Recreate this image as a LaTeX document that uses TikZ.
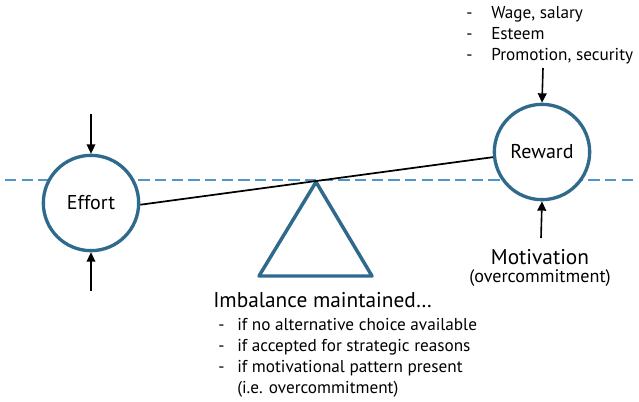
\documentclass[tikz,border=0pt]{standalone}
\usepackage{fontspec}
\setmainfont{PT Sans}
\usetikzlibrary{arrows.meta, positioning, calc}
\usepackage{xcolor}
\definecolor{SeesawBlue}{HTML}{2F6A8C}
\definecolor{HorizonBlue}{HTML}{5196C6}
\definecolor{InkBlack}{HTML}{000000}
\newcommand{\dashitem}[2]{\makebox[#1][l]{-}#2}
\tikzset{
    % Circle and fulcrum styles
    balance/.style={
        circle,
        draw=SeesawBlue,
        fill=white,
        line width=2.5pt,
        minimum size=71.5pt,
        inner sep=0pt,
        font=\fontsize{15}{17}\selectfont
    },
    fulcrum/.style={
        draw=SeesawBlue,
        line width=2.6pt,
        line join=round
    },
    % Line styles
    horizon/.style={
        draw=HorizonBlue,
        line width=1.5pt,
        dash pattern=on 8.5pt off 4pt
    },
    beam/.style={
        draw=InkBlack,
        line width=1.3pt
    },
    arrow/.style={
        -{Triangle[length=7pt,width=6.5pt]},
        line width=1.2pt,
        draw=InkBlack
    },
    % Text styles
    heading/.style={
        anchor=base west,
        inner sep=0pt,
        font=\fontsize{16}{18}\selectfont
    },
    listline/.style={
        anchor=base west,
        inner sep=0pt,
        font=\fontsize{12.9}{15}\selectfont
    }
}

\begin{document}
\begin{tikzpicture}[x=0.75pt, y=-0.75pt]
    \useasboundingbox (0,0) rectangle (639,401);

    % dashed horizon behind the circles
    \coordinate (horizonL) at (5,180);
    \coordinate (horizonR) at (636,180);
    \draw[horizon] (horizonL) -- (horizonR);

    \node[balance] (effort) at (91,203) {Effort};
    \node[balance] (reward) at (542,152) {Reward};

    % fulcrum
    \coordinate (pivot) at (316,182);
    \draw[fulcrum] (pivot) -- (259,276) -- (372,276) -- cycle;
    \draw[beam] (effort.358) -- (reward.186);

    % arrows in and out
    \coordinate (effortTop) at (91,114);
    \coordinate (effortBot) at (91,291);
    \coordinate (rewardTop) at (543,68);
    \coordinate (rewardBot) at (541,238);
    \draw[arrow] (effortTop) -- (effort.north);
    \draw[arrow] (effortBot) -- (effort.south);
    \draw[arrow] (rewardTop) -- (reward.north);
    \draw[arrow] (rewardBot) -- (reward.south);

    % reward items
    \node[listline] (wage) at (466,18) {\dashitem{18.75pt}{Wage, salary}};
    \node[listline] (esteem) at (466,39) {\dashitem{18.75pt}{Esteem}};
    \node[listline] (promo) at (466,60) {\dashitem{18.75pt}{Promotion, security}};

    % motivation
    \node[heading, anchor=base] (motiv) at (540,264) {Motivation};
    \node[listline, anchor=base, font=\fontsize{13.6}{15}\selectfont] (overc) at (540,282) {(overcommitment)};

    % imbalance conditions
    \node[heading] (imbal) at (213,307) {Imbalance maintained…};
    \node[listline] (cond1) at (218,330) {\dashitem{14.25pt}{if no alternative choice available}};
    \node[listline] (cond2) at (218,351) {\dashitem{14.25pt}{if accepted for strategic reasons}};
    \node[listline] (cond3) at (218,372) {\dashitem{14.25pt}{if motivational pattern present}};
    \node[listline] (cond4) at (237,393) {(i.e. overcommitment)};
\end{tikzpicture}
\end{document}
